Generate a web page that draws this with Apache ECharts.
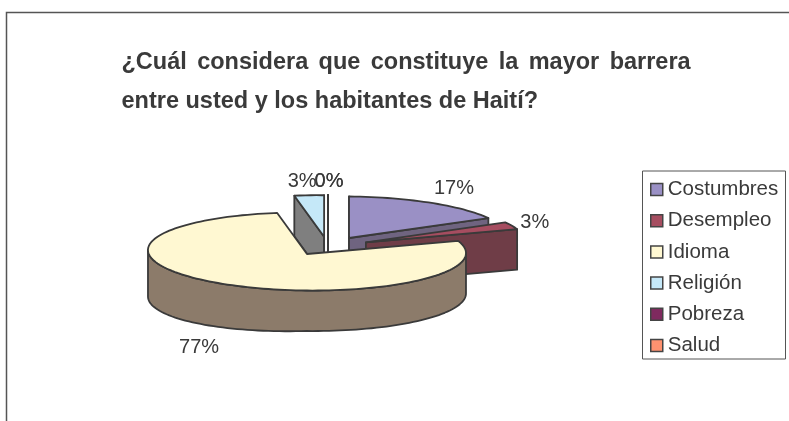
<!DOCTYPE html>
<html>
<head>
<meta charset="utf-8">
<style>html,body{margin:0;padding:0;background:#fff}#chart{width:789px;height:421px}</style>
<script src="https://cdn.jsdelivr.net/npm/echarts@6/dist/echarts.min.js"></script>
</head>
<body>
<div id="chart"></div>
<script>
// Survey answers, in percent
const categories = ['Costumbres', 'Desempleo', 'Idioma', 'Religión', 'Pobreza', 'Salud'];
const shares = [17, 3, 77, 3, 0, 0];
const topColors = ['#9a90c5', '#a64d60', '#fff8d2', '#c5e8f8', '#7f2a5f', '#ff9270'];
const sideColors = ['#6f6480', '#6f3d47', '#8c7b6a', '#7f7f7f', '#5a2044', '#b06a50'];
// Painter's order: the slices furthest back are drawn first
const paintOrder = [3, 4, 5, 1, 2, 2];
// The first title line is justified, so its word gaps are wider than a space
const titleLines = [
  ['¿Cuál', 'considera', 'que', 'constituye', 'la', 'mayor', 'barrera'].join('{gap| }'),
  'entre usted y los habitantes de Haití?'
];

// Label nudges away from the rim of each slice
const labelNudge = [[24, -14], [23, -3], [-27, 23], [-7, -14], [1, -14], [1, -14]];

// Projection of the tilted pie
const centre = { x: 328, y: 246 };
const radiusX = 159, radiusY = 39;
const explode = 41.3, explodeTilt = 0.225;
const depth = 40.5, frontSag = 6;
const inkColor = '#3a3a3a', lineColor = '#3a3a3a';
const fontFamily = '"Liberation Sans", Arial, sans-serif';

const total = shares.reduce((a, b) => a + b, 0);
const rad = d => d * Math.PI / 180;

// Start and end angle of a slice, clockwise from twelve o'clock
function sliceAngles(i) {
  let before = 0;
  for (let k = 0; k < i; k++) before += shares[k];
  return [before / total * 360, (before + shares[i]) / total * 360];
}

function renderSlice(params, api) {
  const i = params.seriesIndex;
  const value = api.value(0);
  const [t0] = sliceAngles(i);
  const t1 = t0 + value / total * 360;
  const mid = rad((t0 + t1) / 2);
  const apex = [
    centre.x + explode * Math.sin(mid),
    centre.y - explode * explodeTilt * Math.cos(mid)
  ];
  // Perspective raises the rim a little more on the left than on the right
  const rim = t => {
    const s = Math.sin(rad(t));
    return [
      apex[0] + radiusX * s,
      apex[1] - radiusY * Math.cos(rad(t)) - (2.5 - 1.5 * s)
    ];
  };
  const drop = t => {
    const s = Math.sin(rad(t));
    return depth + (s < 0 && Math.cos(rad(t)) < 0 ? frontSag * -s : 0);
  };
  const down = (p, t) => [p[0], p[1] + drop(t)];
  const strokeFill = fill => ({ fill, stroke: lineColor, lineWidth: 1.8, lineJoin: 'round' });
  const children = [];

  const cutFace = t => {
    const p = rim(t);
    children.push({
      type: 'polygon',
      shape: { points: [apex, p, [p[0], p[1] + depth], [apex[0], apex[1] + depth]] },
      style: strokeFill(sideColors[i])
    });
  };
  if (Math.sin(rad(t0)) <= 1e-6) cutFace(t0);
  if (Math.sin(rad(t1)) >= -1e-6) cutFace(t1);

  // Outer wall: only the part of the rim that faces the viewer
  const w0 = Math.max(t0, 90), w1 = Math.min(t1, 270);
  if (w1 > w0) {
    const upper = [], lower = [];
    for (let t = w0; t <= w1; t += 2) {
      upper.push(rim(t));
      lower.push(down(rim(t), t));
    }
    children.push({
      type: 'polygon',
      shape: { points: upper.concat(lower.reverse()) },
      style: strokeFill(sideColors[i])
    });
  }

  // Top surface
  const outline = [apex];
  for (let t = t0; t < t1; t += 2) outline.push(rim(t));
  outline.push(rim(t1));
  children.push({
    type: 'polygon',
    shape: { points: outline },
    style: strokeFill(topColors[i])
  });

  // Percentage label
  const anchor = rim((t0 + t1) / 2);
  const sagged = Math.cos(mid) < 0 ? depth : 0;
  children.push({
    type: 'text',
    style: {
      x: anchor[0] + labelNudge[i][0],
      y: anchor[1] + sagged + labelNudge[i][1],
      text: value + '%',
      fill: inkColor,
      font: '20px ' + fontFamily,
      textAlign: 'center',
      textVerticalAlign: 'middle'
    }
  });
  return { type: 'group', children };
}

const chart = echarts.init(document.getElementById('chart'), null, { renderer: 'canvas' });
chart.setOption({
  animation: false,
  backgroundColor: '#ffffff',
  title: {
    text: titleLines.join('\n'),
    left: 121.5,
    top: 43.5,
    padding: 0,
    textStyle: {
      fontFamily,
      fontSize: 23.5,
      fontWeight: 'bold',
      color: inkColor,
      lineHeight: 39,
      rich: {
        gap: { width: 10.4, fontSize: 23.5, fontWeight: 'bold', lineHeight: 39 }
      }
    }
  },
  legend: {
    data: categories,
    orient: 'vertical',
    left: 643,
    top: 169,
    padding: [9, 0, 9, 7],
    itemWidth: 12,
    itemHeight: 12,
    itemGap: 8.2,
    icon: 'rect',
    selectedMode: false,
    itemStyle: { borderColor: '#444444', borderWidth: 1.5 },
    textStyle: {
      fontFamily,
      fontSize: 20.5,
      color: inkColor,
      lineHeight: 23
    }
  },
  graphic: [
    {
      type: 'polyline',
      silent: true,
      shape: { points: [[6.5, 421], [6.5, 12.5], [789, 12.5]] },
      style: { fill: 'none', stroke: '#555555', lineWidth: 1.5 }
    },
    {
      type: 'rect',
      silent: true,
      shape: { x: 642.5, y: 171, width: 143, height: 188 },
      style: { fill: 'none', stroke: '#555555', lineWidth: 1 }
    }
  ],
  series: categories.map((name, i) => ({
    type: 'custom',
    name,
    coordinateSystem: 'none',
    z: paintOrder[i],
    silent: true,
    itemStyle: { color: topColors[i] },
    data: [[shares[i]]],
    renderItem: renderSlice
  }))
});
</script>
</body>
</html>
